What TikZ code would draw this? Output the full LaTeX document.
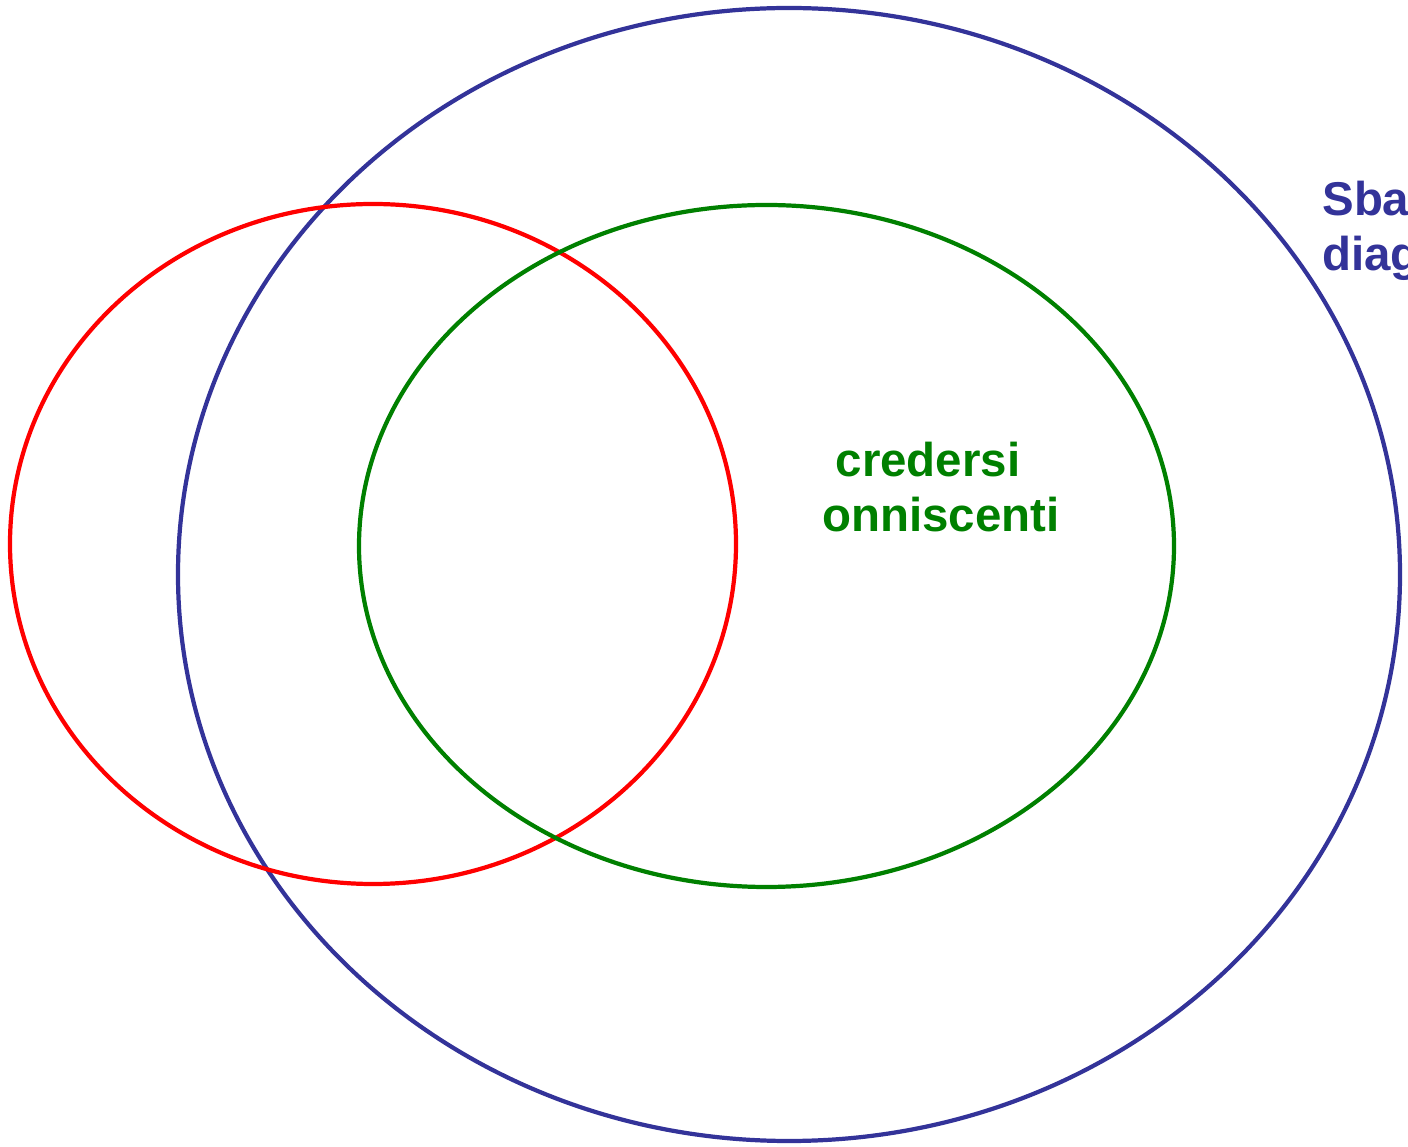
\documentclass[tikz,border=0pt]{standalone}
\usepackage{fontspec}
\setmainfont{Liberation Sans}
\usepackage{xcolor}
\definecolor{setBlue}{HTML}{333399}
\definecolor{setRed}{HTML}{FF0000}
\definecolor{setGreen}{HTML}{008000}
\usetikzlibrary{positioning}

\begin{document}
\begin{tikzpicture}[
    setline/.style={
        line width=2.4pt
    },
    setlabel/.style={
        font=\bfseries\fontsize{27}{31}\selectfont,
        inner sep=0pt
    }
]
\useasboundingbox (0,0) rectangle (28.16,22.94);
\clip (0,0) rectangle (28.16,22.94);

\draw[setline, setBlue] (15.78,11.45) ellipse [x radius=12.22cm, y radius=11.33cm];
\draw[setline, setRed] (7.46,12.06) ellipse [x radius=7.26cm, y radius=6.8cm];
\draw[setline, setGreen] (15.33,12.02) ellipse [x radius=8.15cm, y radius=6.82cm];

\node[setlabel, text=setGreen, align=left, anchor=west] (beliefs) at (16.44,13.2) {\hspace{0.28em}credersi\\onniscenti};
\node[setlabel, text=setBlue, align=left, anchor=west] (errors) at (26.44,18.32) {Sbagliare\\diagnosi};
\end{tikzpicture}
\end{document}
